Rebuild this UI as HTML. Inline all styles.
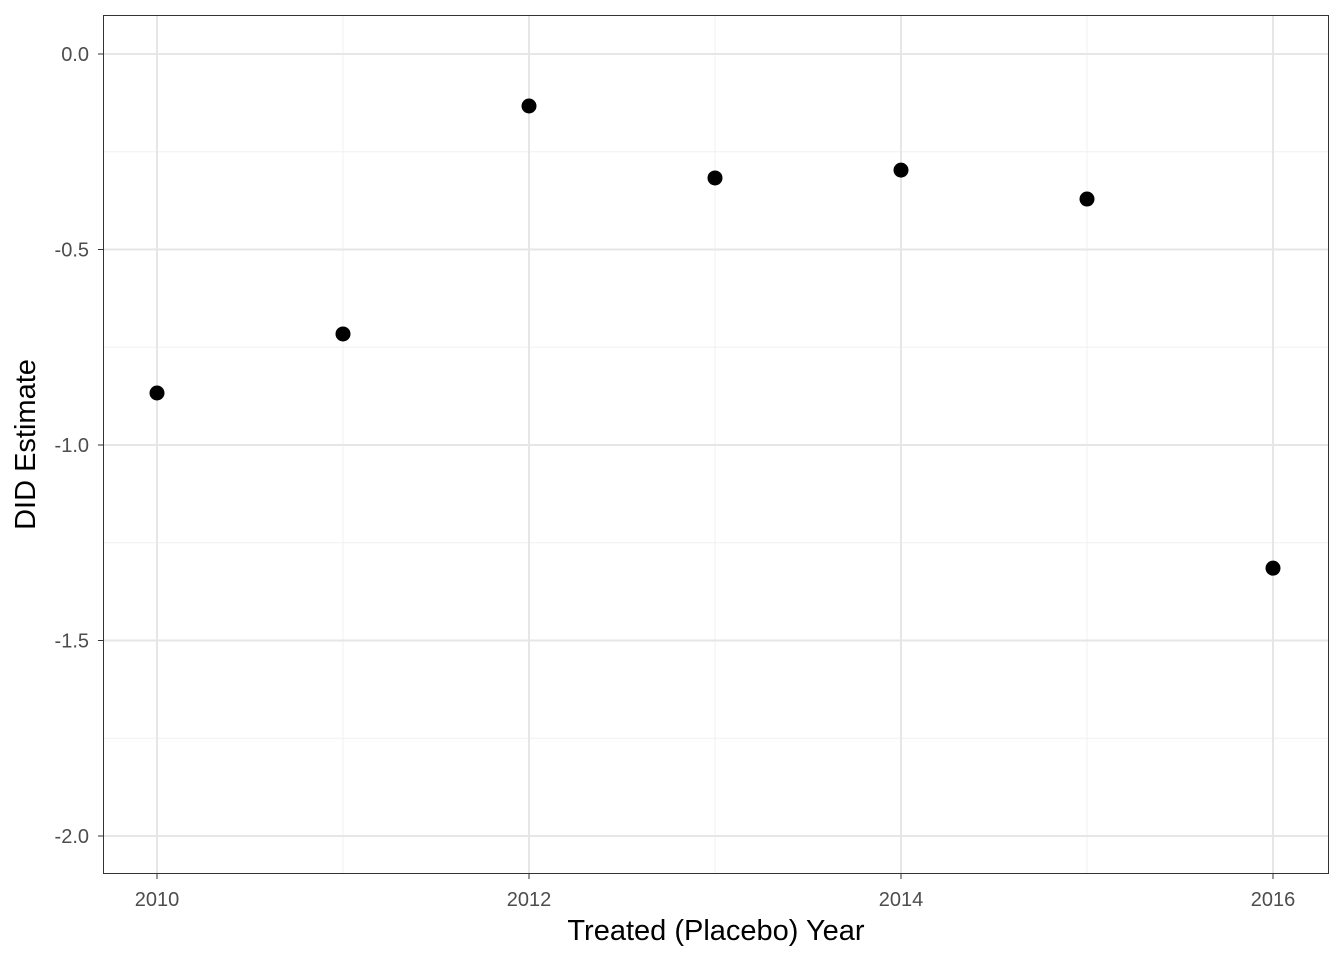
<!DOCTYPE html>
<html><head><meta charset="utf-8"><style>body{margin:0;background:#fff}svg{display:block;font-family:"Liberation Sans",Arial,sans-serif}</style></head>
<body>
<svg id="chart" width="1344" height="960"></svg>
<script>
const years=[2010,2011,2012,2013,2014,2015,2016];
const estimates=[-0.867,-0.716,-0.133,-0.317,-0.297,-0.371,-1.315];
const yTicks=[0,-0.5,-1,-1.5,-2];
const yTickLabels=["0.0","-0.5","-1.0","-1.5","-2.0"];
const yMinor=[-0.25,-0.75,-1.25,-1.75];
const xTicks=[2010,2012,2014,2016];
const xMinor=[2011,2013,2015];
const L=103,T=15,R=1329,B=874;
const x=v=>157+(v-2010)*186;
const y=v=>54-v*391;
const svg=document.getElementById('chart');const NS='http://www.w3.org/2000/svg';
function mk(t,a,p){const e=document.createElementNS(NS,t);for(const k in a)e.setAttribute(k,a[k]);(p||svg).appendChild(e);return e;}
const bg=mk('rect',{x:L,y:T,width:R-L,height:B-T,fill:'#fff'});


yMinor.forEach(v=>{const l=mk('line',{x1:L,x2:R,y1:y(v),y2:y(v),stroke:'#f0f0f0','stroke-width':1});

});
xMinor.forEach(v=>{const l=mk('line',{x1:x(v),x2:x(v),y1:T,y2:B,stroke:'#f0f0f0','stroke-width':1});

});
yTicks.forEach((v,i)=>{const l=mk('line',{x1:L,x2:R,y1:y(v),y2:y(v),stroke:'#e6e6e6','stroke-width':2});


const tk=mk('line',{x1:L-5,x2:L,y1:y(v),y2:y(v),stroke:'#333','stroke-width':1});


const t=mk('text',{x:L-14,y:y(v)+7,'text-anchor':'end','font-size':20,fill:'#4d4d4d'});t.textContent=yTickLabels[i];

});
xTicks.forEach(v=>{const l=mk('line',{x1:x(v),x2:x(v),y1:T,y2:B,stroke:'#e6e6e6','stroke-width':2});


const tk=mk('line',{x1:x(v),x2:x(v),y1:B,y2:B+5,stroke:'#333','stroke-width':1});


const t=mk('text',{x:x(v),y:B+32,'text-anchor':'middle','font-size':20,fill:'#4d4d4d'});t.textContent=v;

});
years.forEach((yr,i)=>{const c=mk('circle',{cx:x(yr),cy:y(estimates[i]),r:7.5,fill:'#000'});

});
const fr=mk('rect',{x:L+0.5,y:T+0.5,width:R-L-1,height:B-T-1,fill:'none',stroke:'#333','stroke-width':1});


const xt=mk('text',{x:(L+R)/2,y:940,'text-anchor':'middle','font-size':29,fill:'#000'});xt.textContent='Treated (Placebo) Year';


const yt=mk('text',{x:0,y:0,'text-anchor':'middle','font-size':29,fill:'#000',transform:`translate(35,${(T+B)/2}) rotate(-90)`});yt.textContent='DID Estimate';


</script>
</body></html>
